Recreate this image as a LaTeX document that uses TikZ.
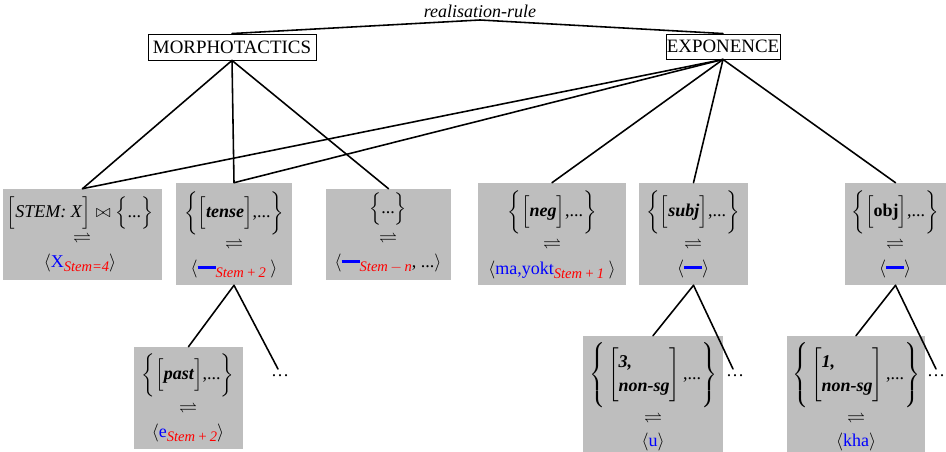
\documentclass[tikz,border=0pt]{standalone}
\usepackage{amssymb}
\usepackage{fontspec}
\setmainfont{Liberation Serif}
\definecolor{boxgray}{RGB}{190,190,190}
\newdimen\pxu \pxu=0.6667pt
\newcommand\stemsub[1]{\raisebox{-0.5ex}{\fontsize{9.7}{10}\selectfont\textcolor{red}{\textit{#1}}}}
\newcommand\bluebar{\textcolor{blue}{\rule[3pt]{12pt}{2pt}}}
\newcommand\bi[1]{\textbf{\textit{#1}}}
\newcommand\brstrut{\rule[-14pt]{0pt}{34pt}}
\newcommand\bcstrut{\rule[-17pt]{0pt}{40pt}}
\tikzset{
  gbox/.style 2 args={rectangle, fill=boxgray, inner sep=0pt, minimum width=#1*\pxu, minimum height=#2*\pxu},
  headbox/.style 2 args={rectangle, draw=black, line width=0.6pt, inner sep=0pt, minimum width=#1*\pxu, minimum height=#2*\pxu},
  txt/.style={inner sep=0pt},
  conn/.style={line width=1.05pt, line cap=round},
}
\begin{document}
\begin{tikzpicture}[x=0.6667pt,y=-0.6667pt,font=\fontsize{12}{14.4}\selectfont]
\useasboundingbox (0,0) rectangle (946,452);

% top
\node[txt] (rr) at (480,11) {\textit{realisation-rule}};
\node[headbox={168}{26}] (morph) at (232,47) {\fontsize{12.6}{14.4}\selectfont MORPHOTACTICS};
\node[headbox={114}{25}] (expo) at (723,46.5) {\fontsize{12.6}{14.4}\selectfont EXPONENCE};
\coordinate (apex) at (480,20);

% boxes
\node[gbox={159}{91}]  (b1) at (82.5,234.5) {};
\node[gbox={116}{102}] (b2) at (234,234) {};
\node[gbox={125}{91}]  (b3) at (388.5,234.5) {};
\node[gbox={148}{102}] (b4) at (552,234) {};
\node[gbox={109}{102}] (b5) at (693.5,234) {};
\node[gbox={101}{102}] (b6) at (895.5,234) {};
\node[gbox={109}{102}] (b7) at (188.5,398) {};
\node[gbox={140}{116}] (b8) at (653,394) {};
\node[gbox={138}{116}] (b9) at (856,394) {};

% box 1
\node[txt] (b1t) at (80,212) {$\biggl[\mbox{\textit{STEM: X}}\biggr]\bowtie\Bigl\{\mbox{...}\Bigr\}$};
\node[txt] (b1h) at (82,238) {$\rightleftharpoons$};
\node[txt] (b1b) at (80,263) {$\langle$\textcolor{blue}{X}\stemsub{Stem=4}$\rangle$};
% box 2
\node[txt] (b2t) at (234,213) {$\Biggl\{\biggl[\mbox{\bi{tense}}\biggr]\mbox{,...}\Biggr\}$};
\node[txt] (b2h) at (234,244) {$\rightleftharpoons$};
\node[txt] (b2b) at (234,269) {$\langle$\bluebar\stemsub{Stem\,+\,2}\ $\rangle$};
% box 3
\node[txt] (b3t) at (388,209) {$\Bigl\{\mbox{...}\Bigr\}$};
\node[txt] (b3h) at (388,238) {$\rightleftharpoons$};
\node[txt] (b3b) at (388,263) {$\langle$\bluebar\stemsub{Stem\,$-$\,n}, ...$\rangle$};
% box 4
\node[txt] (b4t) at (552,212) {$\Biggl\{\biggl[\mbox{\bi{neg}}\biggr]\mbox{,...}\Biggr\}$};
\node[txt] (b4h) at (552,244) {$\rightleftharpoons$};
\node[txt] (b4b) at (552,270) {$\langle$\textcolor{blue}{ma,yokt}\stemsub{Stem\,+\,1}\ $\rangle$};
% box 5
\node[txt] (b5t) at (693,212) {$\Biggl\{\biggl[\mbox{\bi{subj}}\biggr]\mbox{,...}\Biggr\}$};
\node[txt] (b5h) at (693,244) {$\rightleftharpoons$};
\node[txt] (b5b) at (693,269) {$\langle$\bluebar$\rangle$};
% box 6
\node[txt] (b6t) at (895,212) {$\Biggl\{\biggl[\mbox{\textbf{obj}}\biggr]\mbox{,...}\Biggr\}$};
\node[txt] (b6h) at (895,244) {$\rightleftharpoons$};
\node[txt] (b6b) at (895,269) {$\langle$\bluebar$\rangle$};
% box 7
\node[txt] (b7t) at (188,375) {$\Biggl\{\biggl[\mbox{\bi{past}}\biggr]\mbox{,...}\Biggr\}$};
\node[txt] (b7h) at (188,408) {$\rightleftharpoons$};
\node[txt] (b7b) at (188,433) {$\langle$\textcolor{blue}{e}\stemsub{Stem\,+\,2}$\rangle$};
% box 8
\node[txt] (b8t) at (653,375) {$\left\{\bcstrut\left[\brstrut\begin{array}{@{}l@{}}\mbox{\bi{3,}}\\[2pt] \mbox{\bi{non-sg}}\end{array}\right]\mbox{,...}\right\}$};
\node[txt] (b8h) at (653,418) {$\rightleftharpoons$};
\node[txt] (b8b) at (653,442) {$\langle$\textcolor{blue}{u}$\rangle$};
% box 9
\node[txt] (b9t) at (856,375) {$\left\{\bcstrut\left[\brstrut\begin{array}{@{}l@{}}\mbox{\bi{1,}}\\[2pt] \mbox{\bi{non-sg}}\end{array}\right]\mbox{,...}\right\}$};
\node[txt] (b9h) at (856,418) {$\rightleftharpoons$};
\node[txt] (b9b) at (856,442) {$\langle$\textcolor{blue}{kha}$\rangle$};

% dots
\node[txt] (d1) at (280,376) {\dots};
\node[txt] (d2) at (735,376) {\dots};
\node[txt] (d3) at (936,376) {\dots};
\coordinate (e1) at (278,369);
\coordinate (e2) at (733,369);
\coordinate (e3) at (936,369);

% connectors
\draw[conn] (apex) -- (morph.north);
\draw[conn] (apex) -- (expo.north);
\draw[conn] (morph.south) -- (b1.north);
\draw[conn] (morph.south) -- (b2.north);
\draw[conn] (morph.south) -- (b3.north);
\draw[conn] (expo.south) -- (b1.north);
\draw[conn] (expo.south) -- (b2.north);
\draw[conn] (expo.south) -- (b4.north);
\draw[conn] (expo.south) -- (b5.north);
\draw[conn] (expo.south) -- (b6.north);
\draw[conn] (b2.south) -- (b7.north);
\draw[conn] (b2.south) -- (e1);
\draw[conn] (b5.south) -- (b8.north);
\draw[conn] (b5.south) -- (e2);
\draw[conn] (b6.south) -- (b9.north);
\draw[conn] (b6.south) -- (e3);
\end{tikzpicture}
\end{document}
